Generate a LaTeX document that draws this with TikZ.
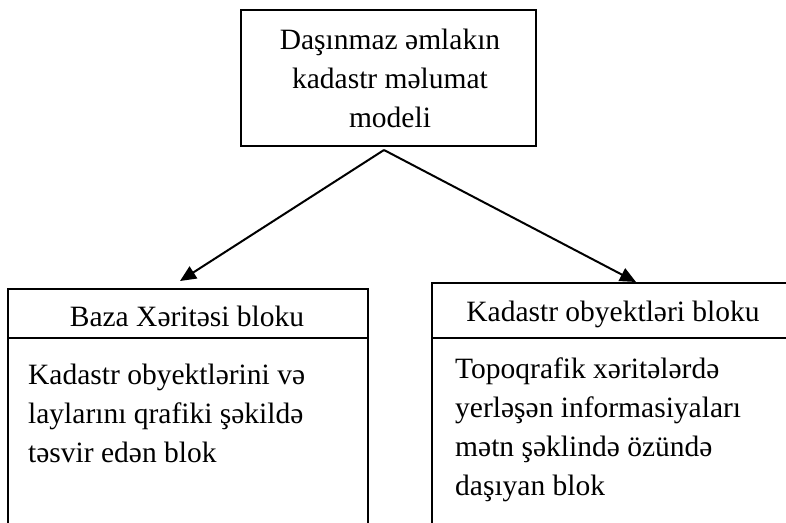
\documentclass[tikz,border=0pt]{standalone}
\usepackage{fontspec}
\setmainfont{Liberation Serif}
\usetikzlibrary{arrows.meta}
\begin{document}
\begin{tikzpicture}[x=1pt,y=-1pt,
  boxline/.style={draw=black, line width=1.6pt},
  txt/.style={font=\fontsize{29.5}{39}\selectfont, inner sep=0pt},
  conn/.style={line width=2pt, -{Triangle[length=16pt,width=14pt]}}]
\useasboundingbox (0,0) rectangle (786,522);
\clip (0,0) rectangle (786,522);
% top box
\node[boxline, minimum width=295pt, minimum height=136pt, inner sep=0pt] (top) at (388.5,78) {};
\node[txt, align=center, anchor=base] (toptxt) at (390,127) {Daşınmaz əmlakın\\kadastr məlumat\\modeli};
% left box
\node[boxline, minimum width=360pt, minimum height=260pt, anchor=north west, inner sep=0pt] (lbox) at (7,288) {};
\draw[line width=1.6pt] (7,338) -- (367,338);
\node[txt, anchor=base] (lhead) at (187,326) {Baza Xəritəsi bloku};
\node[txt, align=left, anchor=base west] (lbody) at (28,462) {Kadastr obyektlərini və\\laylarını qrafiki şəkildə\\təsvir edən blok};
% right box
\node[boxline, minimum width=400pt, minimum height=260pt, anchor=north west, inner sep=0pt] (rbox) at (431,282) {};
\draw[line width=1.6pt] (431,338) -- (786,338);
\node[txt, anchor=base] (rhead) at (613,321) {Kadastr obyektləri bloku};
\node[txt, align=left, anchor=base west] (rbody) at (455,495) {Topoqrafik xəritələrdə\\yerləşən informasiyaları\\mətn şəklində özündə\\daşıyan blok};
% connectors
\coordinate (apex) at (384,150);
\coordinate (ltip) at (180,281);
\coordinate (rtip) at (636,282);
\draw[conn] (apex) -- (ltip);
\draw[conn] (apex) -- (rtip);
\end{tikzpicture}
\end{document}
